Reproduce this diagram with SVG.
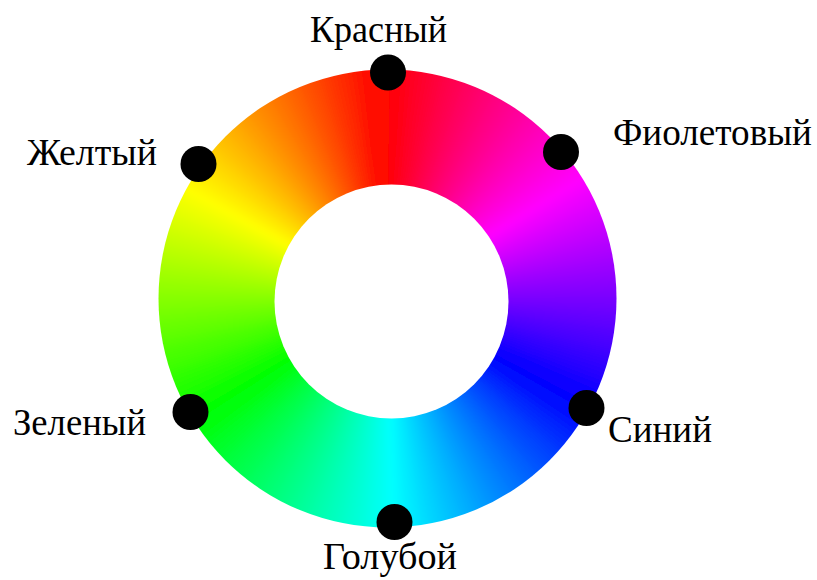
<svg xmlns="http://www.w3.org/2000/svg" xmlns:xlink="http://www.w3.org/1999/xlink" width="817" height="580" viewBox="0 0 817 580">
<style>
.lbl{font-family:"Liberation Serif","Times New Roman",serif;font-size:37px;fill:#000}
.dot{fill:#000}
</style>
<defs>
<path id="w" d="M0 0 L-10.69 -244.77 L10.69 -244.77 Z"/>
<filter id="bl" x="-20%" y="-20%" width="140%" height="140%"><feGaussianBlur stdDeviation="3"/></filter>
<clipPath id="ring"><circle cx="387.5" cy="298.5" r="229"/></clipPath>
</defs>
<rect width="817" height="580" fill="#fff"/>
<g id="wheel" clip-path="url(#ring)">
<g filter="url(#bl)">
<g transform="translate(387.5 298.5)">
<use href="#w" transform="rotate(0)" fill="hsl(0,100%,50%)"/>
<use href="#w" transform="rotate(2)" fill="hsl(358,100%,50%)"/>
<use href="#w" transform="rotate(4)" fill="hsl(356,100%,50%)"/>
<use href="#w" transform="rotate(6)" fill="hsl(354,100%,50%)"/>
<use href="#w" transform="rotate(8)" fill="hsl(352,100%,50%)"/>
<use href="#w" transform="rotate(10)" fill="hsl(350,100%,50%)"/>
<use href="#w" transform="rotate(12)" fill="hsl(348,100%,50%)"/>
<use href="#w" transform="rotate(14)" fill="hsl(346,100%,50%)"/>
<use href="#w" transform="rotate(16)" fill="hsl(344,100%,50%)"/>
<use href="#w" transform="rotate(18)" fill="hsl(342,100%,50%)"/>
<use href="#w" transform="rotate(20)" fill="hsl(340,100%,50%)"/>
<use href="#w" transform="rotate(22)" fill="hsl(338,100%,50%)"/>
<use href="#w" transform="rotate(24)" fill="hsl(336,100%,50%)"/>
<use href="#w" transform="rotate(26)" fill="hsl(334,100%,50%)"/>
<use href="#w" transform="rotate(28)" fill="hsl(332,100%,50%)"/>
<use href="#w" transform="rotate(30)" fill="hsl(330,100%,50%)"/>
<use href="#w" transform="rotate(32)" fill="hsl(328,100%,50%)"/>
<use href="#w" transform="rotate(34)" fill="hsl(326,100%,50%)"/>
<use href="#w" transform="rotate(36)" fill="hsl(324,100%,50%)"/>
<use href="#w" transform="rotate(38)" fill="hsl(322,100%,50%)"/>
<use href="#w" transform="rotate(40)" fill="hsl(320,100%,50%)"/>
<use href="#w" transform="rotate(42)" fill="hsl(318,100%,50%)"/>
<use href="#w" transform="rotate(44)" fill="hsl(316,100%,50%)"/>
<use href="#w" transform="rotate(46)" fill="hsl(314,100%,50%)"/>
<use href="#w" transform="rotate(48)" fill="hsl(312,100%,50%)"/>
<use href="#w" transform="rotate(50)" fill="hsl(310,100%,50%)"/>
<use href="#w" transform="rotate(52)" fill="hsl(308,100%,50%)"/>
<use href="#w" transform="rotate(54)" fill="hsl(306,100%,50%)"/>
<use href="#w" transform="rotate(56)" fill="hsl(304,100%,50%)"/>
<use href="#w" transform="rotate(58)" fill="hsl(302,100%,50%)"/>
<use href="#w" transform="rotate(60)" fill="hsl(300,100%,50%)"/>
<use href="#w" transform="rotate(62)" fill="hsl(298,100%,50%)"/>
<use href="#w" transform="rotate(64)" fill="hsl(296,100%,50%)"/>
<use href="#w" transform="rotate(66)" fill="hsl(294,100%,50%)"/>
<use href="#w" transform="rotate(68)" fill="hsl(292,100%,50%)"/>
<use href="#w" transform="rotate(70)" fill="hsl(290,100%,50%)"/>
<use href="#w" transform="rotate(72)" fill="hsl(288,100%,50%)"/>
<use href="#w" transform="rotate(74)" fill="hsl(286,100%,50%)"/>
<use href="#w" transform="rotate(76)" fill="hsl(284,100%,50%)"/>
<use href="#w" transform="rotate(78)" fill="hsl(282,100%,50%)"/>
<use href="#w" transform="rotate(80)" fill="hsl(280,100%,50%)"/>
<use href="#w" transform="rotate(82)" fill="hsl(278,100%,50%)"/>
<use href="#w" transform="rotate(84)" fill="hsl(276,100%,50%)"/>
<use href="#w" transform="rotate(86)" fill="hsl(274,100%,50%)"/>
<use href="#w" transform="rotate(88)" fill="hsl(272,100%,50%)"/>
<use href="#w" transform="rotate(90)" fill="hsl(270,100%,50%)"/>
<use href="#w" transform="rotate(92)" fill="hsl(268,100%,50%)"/>
<use href="#w" transform="rotate(94)" fill="hsl(266,100%,50%)"/>
<use href="#w" transform="rotate(96)" fill="hsl(264,100%,50%)"/>
<use href="#w" transform="rotate(98)" fill="hsl(262,100%,50%)"/>
<use href="#w" transform="rotate(100)" fill="hsl(260,100%,50%)"/>
<use href="#w" transform="rotate(102)" fill="hsl(258,100%,50%)"/>
<use href="#w" transform="rotate(104)" fill="hsl(256,100%,50%)"/>
<use href="#w" transform="rotate(106)" fill="hsl(254,100%,50%)"/>
<use href="#w" transform="rotate(108)" fill="hsl(252,100%,50%)"/>
<use href="#w" transform="rotate(110)" fill="hsl(250,100%,50%)"/>
<use href="#w" transform="rotate(112)" fill="hsl(248,100%,50%)"/>
<use href="#w" transform="rotate(114)" fill="hsl(246,100%,50%)"/>
<use href="#w" transform="rotate(116)" fill="hsl(244,100%,50%)"/>
<use href="#w" transform="rotate(118)" fill="hsl(242,100%,50%)"/>
<use href="#w" transform="rotate(120)" fill="hsl(240,100%,50%)"/>
<use href="#w" transform="rotate(122)" fill="hsl(238,100%,50%)"/>
<use href="#w" transform="rotate(124)" fill="hsl(236,100%,50%)"/>
<use href="#w" transform="rotate(126)" fill="hsl(234,100%,50%)"/>
<use href="#w" transform="rotate(128)" fill="hsl(232,100%,50%)"/>
<use href="#w" transform="rotate(130)" fill="hsl(230,100%,50%)"/>
<use href="#w" transform="rotate(132)" fill="hsl(228,100%,50%)"/>
<use href="#w" transform="rotate(134)" fill="hsl(226,100%,50%)"/>
<use href="#w" transform="rotate(136)" fill="hsl(224,100%,50%)"/>
<use href="#w" transform="rotate(138)" fill="hsl(222,100%,50%)"/>
<use href="#w" transform="rotate(140)" fill="hsl(220,100%,50%)"/>
<use href="#w" transform="rotate(142)" fill="hsl(218,100%,50%)"/>
<use href="#w" transform="rotate(144)" fill="hsl(216,100%,50%)"/>
<use href="#w" transform="rotate(146)" fill="hsl(214,100%,50%)"/>
<use href="#w" transform="rotate(148)" fill="hsl(212,100%,50%)"/>
<use href="#w" transform="rotate(150)" fill="hsl(210,100%,50%)"/>
<use href="#w" transform="rotate(152)" fill="hsl(208,100%,50%)"/>
<use href="#w" transform="rotate(154)" fill="hsl(206,100%,50%)"/>
<use href="#w" transform="rotate(156)" fill="hsl(204,100%,50%)"/>
<use href="#w" transform="rotate(158)" fill="hsl(202,100%,50%)"/>
<use href="#w" transform="rotate(160)" fill="hsl(200,100%,50%)"/>
<use href="#w" transform="rotate(162)" fill="hsl(198,100%,50%)"/>
<use href="#w" transform="rotate(164)" fill="hsl(196,100%,50%)"/>
<use href="#w" transform="rotate(166)" fill="hsl(194,100%,50%)"/>
<use href="#w" transform="rotate(168)" fill="hsl(192,100%,50%)"/>
<use href="#w" transform="rotate(170)" fill="hsl(190,100%,50%)"/>
<use href="#w" transform="rotate(172)" fill="hsl(188,100%,50%)"/>
<use href="#w" transform="rotate(174)" fill="hsl(186,100%,50%)"/>
<use href="#w" transform="rotate(176)" fill="hsl(184,100%,50%)"/>
<use href="#w" transform="rotate(178)" fill="hsl(182,100%,50%)"/>
<use href="#w" transform="rotate(180)" fill="hsl(180,100%,50%)"/>
<use href="#w" transform="rotate(182)" fill="hsl(178,100%,50%)"/>
<use href="#w" transform="rotate(184)" fill="hsl(176,100%,50%)"/>
<use href="#w" transform="rotate(186)" fill="hsl(174,100%,50%)"/>
<use href="#w" transform="rotate(188)" fill="hsl(172,100%,50%)"/>
<use href="#w" transform="rotate(190)" fill="hsl(170,100%,50%)"/>
<use href="#w" transform="rotate(192)" fill="hsl(168,100%,50%)"/>
<use href="#w" transform="rotate(194)" fill="hsl(166,100%,50%)"/>
<use href="#w" transform="rotate(196)" fill="hsl(164,100%,50%)"/>
<use href="#w" transform="rotate(198)" fill="hsl(162,100%,50%)"/>
<use href="#w" transform="rotate(200)" fill="hsl(160,100%,50%)"/>
<use href="#w" transform="rotate(202)" fill="hsl(158,100%,50%)"/>
<use href="#w" transform="rotate(204)" fill="hsl(156,100%,50%)"/>
<use href="#w" transform="rotate(206)" fill="hsl(154,100%,50%)"/>
<use href="#w" transform="rotate(208)" fill="hsl(152,100%,50%)"/>
<use href="#w" transform="rotate(210)" fill="hsl(150,100%,50%)"/>
<use href="#w" transform="rotate(212)" fill="hsl(148,100%,50%)"/>
<use href="#w" transform="rotate(214)" fill="hsl(146,100%,50%)"/>
<use href="#w" transform="rotate(216)" fill="hsl(144,100%,50%)"/>
<use href="#w" transform="rotate(218)" fill="hsl(142,100%,50%)"/>
<use href="#w" transform="rotate(220)" fill="hsl(140,100%,50%)"/>
<use href="#w" transform="rotate(222)" fill="hsl(138,100%,50%)"/>
<use href="#w" transform="rotate(224)" fill="hsl(136,100%,50%)"/>
<use href="#w" transform="rotate(226)" fill="hsl(134,100%,50%)"/>
<use href="#w" transform="rotate(228)" fill="hsl(132,100%,50%)"/>
<use href="#w" transform="rotate(230)" fill="hsl(130,100%,50%)"/>
<use href="#w" transform="rotate(232)" fill="hsl(128,100%,50%)"/>
<use href="#w" transform="rotate(234)" fill="hsl(126,100%,50%)"/>
<use href="#w" transform="rotate(236)" fill="hsl(124,100%,50%)"/>
<use href="#w" transform="rotate(238)" fill="hsl(122,100%,50%)"/>
<use href="#w" transform="rotate(240)" fill="hsl(120,100%,50%)"/>
<use href="#w" transform="rotate(242)" fill="hsl(118,100%,50%)"/>
<use href="#w" transform="rotate(244)" fill="hsl(116,100%,50%)"/>
<use href="#w" transform="rotate(246)" fill="hsl(114,100%,50%)"/>
<use href="#w" transform="rotate(248)" fill="hsl(112,100%,50%)"/>
<use href="#w" transform="rotate(250)" fill="hsl(110,100%,50%)"/>
<use href="#w" transform="rotate(252)" fill="hsl(108,100%,50%)"/>
<use href="#w" transform="rotate(254)" fill="hsl(106,100%,50%)"/>
<use href="#w" transform="rotate(256)" fill="hsl(104,100%,50%)"/>
<use href="#w" transform="rotate(258)" fill="hsl(102,100%,50%)"/>
<use href="#w" transform="rotate(260)" fill="hsl(100,100%,50%)"/>
<use href="#w" transform="rotate(262)" fill="hsl(98,100%,50%)"/>
<use href="#w" transform="rotate(264)" fill="hsl(96,100%,50%)"/>
<use href="#w" transform="rotate(266)" fill="hsl(94,100%,50%)"/>
<use href="#w" transform="rotate(268)" fill="hsl(92,100%,50%)"/>
<use href="#w" transform="rotate(270)" fill="hsl(90,100%,50%)"/>
<use href="#w" transform="rotate(272)" fill="hsl(88,100%,50%)"/>
<use href="#w" transform="rotate(274)" fill="hsl(86,100%,50%)"/>
<use href="#w" transform="rotate(276)" fill="hsl(84,100%,50%)"/>
<use href="#w" transform="rotate(278)" fill="hsl(82,100%,50%)"/>
<use href="#w" transform="rotate(280)" fill="hsl(80,100%,50%)"/>
<use href="#w" transform="rotate(282)" fill="hsl(78,100%,50%)"/>
<use href="#w" transform="rotate(284)" fill="hsl(76,100%,50%)"/>
<use href="#w" transform="rotate(286)" fill="hsl(74,100%,50%)"/>
<use href="#w" transform="rotate(288)" fill="hsl(72,100%,50%)"/>
<use href="#w" transform="rotate(290)" fill="hsl(70,100%,50%)"/>
<use href="#w" transform="rotate(292)" fill="hsl(68,100%,50%)"/>
<use href="#w" transform="rotate(294)" fill="hsl(66,100%,50%)"/>
<use href="#w" transform="rotate(296)" fill="hsl(64,100%,50%)"/>
<use href="#w" transform="rotate(298)" fill="hsl(62,100%,50%)"/>
<use href="#w" transform="rotate(300)" fill="hsl(60,100%,50%)"/>
<use href="#w" transform="rotate(302)" fill="hsl(58,100%,50%)"/>
<use href="#w" transform="rotate(304)" fill="hsl(56,100%,50%)"/>
<use href="#w" transform="rotate(306)" fill="hsl(54,100%,50%)"/>
<use href="#w" transform="rotate(308)" fill="hsl(52,100%,50%)"/>
<use href="#w" transform="rotate(310)" fill="hsl(50,100%,50%)"/>
<use href="#w" transform="rotate(312)" fill="hsl(48,100%,50%)"/>
<use href="#w" transform="rotate(314)" fill="hsl(46,100%,50%)"/>
<use href="#w" transform="rotate(316)" fill="hsl(44,100%,50%)"/>
<use href="#w" transform="rotate(318)" fill="hsl(42,100%,50%)"/>
<use href="#w" transform="rotate(320)" fill="hsl(40,100%,50%)"/>
<use href="#w" transform="rotate(322)" fill="hsl(38,100%,50%)"/>
<use href="#w" transform="rotate(324)" fill="hsl(36,100%,50%)"/>
<use href="#w" transform="rotate(326)" fill="hsl(34,100%,50%)"/>
<use href="#w" transform="rotate(328)" fill="hsl(32,100%,50%)"/>
<use href="#w" transform="rotate(330)" fill="hsl(30,100%,50%)"/>
<use href="#w" transform="rotate(332)" fill="hsl(28,100%,50%)"/>
<use href="#w" transform="rotate(334)" fill="hsl(26,100%,50%)"/>
<use href="#w" transform="rotate(336)" fill="hsl(24,100%,50%)"/>
<use href="#w" transform="rotate(338)" fill="hsl(22,100%,50%)"/>
<use href="#w" transform="rotate(340)" fill="hsl(20,100%,50%)"/>
<use href="#w" transform="rotate(342)" fill="hsl(18,100%,50%)"/>
<use href="#w" transform="rotate(344)" fill="hsl(16,100%,50%)"/>
<use href="#w" transform="rotate(346)" fill="hsl(14,100%,50%)"/>
<use href="#w" transform="rotate(348)" fill="hsl(12,100%,50%)"/>
<use href="#w" transform="rotate(350)" fill="hsl(10,100%,50%)"/>
<use href="#w" transform="rotate(352)" fill="hsl(8,100%,50%)"/>
<use href="#w" transform="rotate(354)" fill="hsl(6,100%,50%)"/>
<use href="#w" transform="rotate(356)" fill="hsl(4,100%,50%)"/>
<use href="#w" transform="rotate(358)" fill="hsl(2,100%,50%)"/>
</g>
</g>
</g>
<circle id="hole" cx="391.5" cy="301.5" r="117" fill="#fff"/>
<g id="connectors"/>
<g id="red"><circle class="dot" cx="388" cy="72.5" r="18"/><text class="lbl" x="310" y="42" textLength="137" lengthAdjust="spacingAndGlyphs">Красный</text></g>
<g id="violet"><circle class="dot" cx="561" cy="152" r="18"/><text class="lbl" x="613" y="145" textLength="199" lengthAdjust="spacingAndGlyphs">Фиолетовый</text></g>
<g id="yellow"><circle class="dot" cx="198.5" cy="164" r="18"/><text class="lbl" x="27" y="165" textLength="130" lengthAdjust="spacingAndGlyphs">Желтый</text></g>
<g id="green"><circle class="dot" cx="190.5" cy="412" r="18"/><text class="lbl" x="13" y="435" textLength="133" lengthAdjust="spacingAndGlyphs">Зеленый</text></g>
<g id="blue"><circle class="dot" cx="586.5" cy="408" r="18"/><text class="lbl" x="608" y="442" textLength="104" lengthAdjust="spacingAndGlyphs">Синий</text></g>
<g id="cyan"><circle class="dot" cx="394.5" cy="522" r="18"/><text class="lbl" x="323" y="569" textLength="134" lengthAdjust="spacingAndGlyphs">Голубой</text></g>
</svg>
